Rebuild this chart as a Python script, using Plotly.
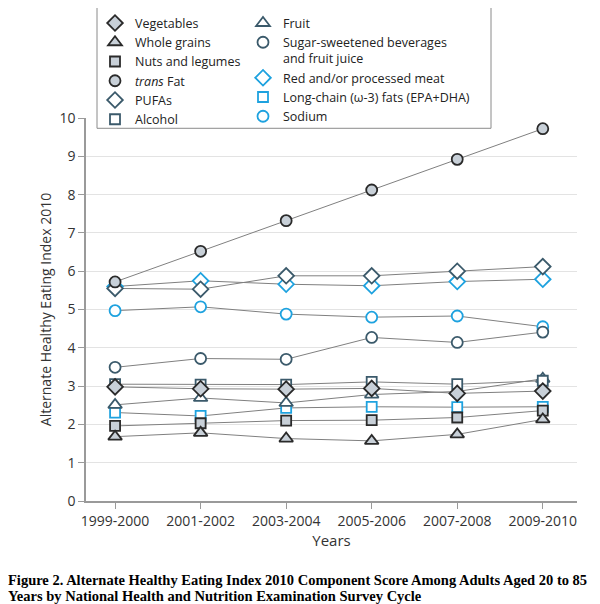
import plotly.graph_objects as go

cycles = ["1999-2000", "2001-2002", "2003-2004", "2005-2006", "2007-2008", "2009-2010"]

vegetables = [2.98, 2.93, 2.92, 2.94, 2.81, 2.87]
whole_grains = [1.68, 1.78, 1.63, 1.57, 1.74, 2.13]
nuts_legumes = [1.96, 2.03, 2.10, 2.11, 2.18, 2.36]
trans_fat = [5.72, 6.52, 7.32, 8.12, 8.92, 9.72]
pufas = [5.55, 5.53, 5.88, 5.88, 6.00, 6.12]
alcohol = [3.05, 3.04, 3.04, 3.11, 3.05, 3.14]
fruit = [2.51, 2.69, 2.56, 2.78, 2.86, 3.19]
ssb = [3.49, 3.72, 3.70, 4.27, 4.14, 4.41]
red_meat = [5.60, 5.75, 5.66, 5.62, 5.73, 5.79]
omega3 = [2.31, 2.22, 2.43, 2.46, 2.45, 2.46]
sodium = [4.97, 5.07, 4.88, 4.80, 4.83, 4.55]

caption_lines = [
    "Figure 2. Alternate Healthy Eating Index 2010 Component Score Among Adults Aged 20 to 85",
    "Years by National Health and Nutrition Examination Survey Cycle",
]

DARK = "#2a2a2a"
SLATE = "#3b5a6b"
FILL = "#c8d0d8"
BLUE = "#1ea2df"
LINE = "#808080"
FONT = "Open Sans"

series1 = [
    ("Vegetables", vegetables, "diamond", FILL, DARK, 12),
    ("Whole grains", whole_grains, "triangle-up", FILL, DARK, 12),
    ("Nuts and legumes", nuts_legumes, "square", FILL, DARK, 10),
    ("<i>trans</i> Fat", trans_fat, "circle", FILL, DARK, 11),
    ("PUFAs", pufas, "diamond", "white", SLATE, 12),
    ("Alcohol", alcohol, "square", "white", SLATE, 10),
]
series2 = [
    ("Fruit", fruit, "triangle-up", "white", SLATE, 12),
    ("Sugar-sweetened beverages<br>and fruit juice", ssb, "circle", "white", SLATE, 11),
    ("Red and/or processed meat", red_meat, "diamond", "white", BLUE, 12),
    ("Long-chain (ω-3) fats (EPA+DHA)", omega3, "square", "white", BLUE, 10),
    ("Sodium", sodium, "circle", "white", BLUE, 11),
]

fig = go.Figure()

# data traces
for name, vals, sym, fill, edge, size in series2[::-1] + series1[::-1]:
    fig.add_trace(go.Scatter(
        x=cycles, y=vals, mode="lines+markers", showlegend=False,
        line=dict(color=LINE, width=1),
        marker=dict(symbol=sym, size=size, color=fill, line=dict(color=edge, width=1.8)),
    ))

# legend-only traces
for legend_id, group in (("legend", series1), ("legend2", series2)):
    for name, vals, sym, fill, edge, size in group:
        fig.add_trace(go.Scatter(
            x=[None], y=[None], mode="markers", name=name, legend=legend_id,
            marker=dict(symbol=sym, size=size, color=fill, line=dict(color=edge, width=1.8)),
        ))

# the page body adds an 8px offset; figure is sized/positioned to compensate
OFF = 8
W, H = 600 - OFF, 604 - OFF
L = 86 - OFF
T = 117.7 - OFF
B = H - (501 - OFF)
R = W - (577 - OFF)
pw = W - L - R
ph = H - T - B

def px(x_ref):
    return (x_ref - OFF - L) / pw

def py(y_ref):
    return (H - B - (y_ref - OFF)) / ph

fig.add_shape(type="rect", xref="paper", yref="paper",
              x0=px(97), x1=px(491), y0=py(128), y1=py(5),
              line=dict(color="#8a8a8a", width=1), fillcolor="white", layer="above")

legend_common = dict(
    bgcolor="rgba(0,0,0,0)", borderwidth=0, tracegroupgap=0,
    font=dict(family=FONT, size=12.5, color="#222"), yanchor="top", xanchor="left",
    itemwidth=30, valign="top",
)

fig.update_layout(
    width=W, height=H,
    margin=dict(l=L, r=R, t=T, b=B, autoexpand=False),
    paper_bgcolor="white", plot_bgcolor="white",
    font=dict(family=FONT, color="#333"),
    legend=dict(x=px(95), y=py(8), **legend_common),
    legend2=dict(x=px(243), y=py(8), **legend_common),
    xaxis=dict(
        type="category", range=[-0.34, 5.40],
        showline=True, linecolor="#9a9a9a", linewidth=1.5,
        ticks="outside", ticklen=6, tickcolor="#9a9a9a", tickwidth=1.2,
        showgrid=False, zeroline=False,
        tickfont=dict(family=FONT, size=14, color="#333"),
        title=dict(text="Years", font=dict(family=FONT, size=15, color="#333"), standoff=7),
    ),
    yaxis=dict(
        range=[0, 10], tickmode="array", tickvals=list(range(0, 11)),
        showline=True, linecolor="#9a9a9a", linewidth=1.5,
        ticks="outside", ticklen=6, tickcolor="#9a9a9a", tickwidth=1.2,
        showgrid=True, gridcolor="#e3e3e3", gridwidth=1.2, zeroline=False,
        tickfont=dict(family=FONT, size=14, color="#333"),
        title=dict(text="Alternate Healthy Eating Index 2010",
                   font=dict(family=FONT, size=14, color="#333"), standoff=5),
    ),
)

for line_text, ycen in zip(caption_lines, (580.5, 596.5)):
    fig.add_annotation(
        xref="paper", yref="paper", x=px(7), y=py(ycen), xanchor="left", yanchor="middle",
        align="left", showarrow=False, borderpad=0,
        text="<b>" + line_text + "</b>",
        font=dict(family="Liberation Serif", size=14.5, color="black"),
    )

fig.write_html("out.html")
